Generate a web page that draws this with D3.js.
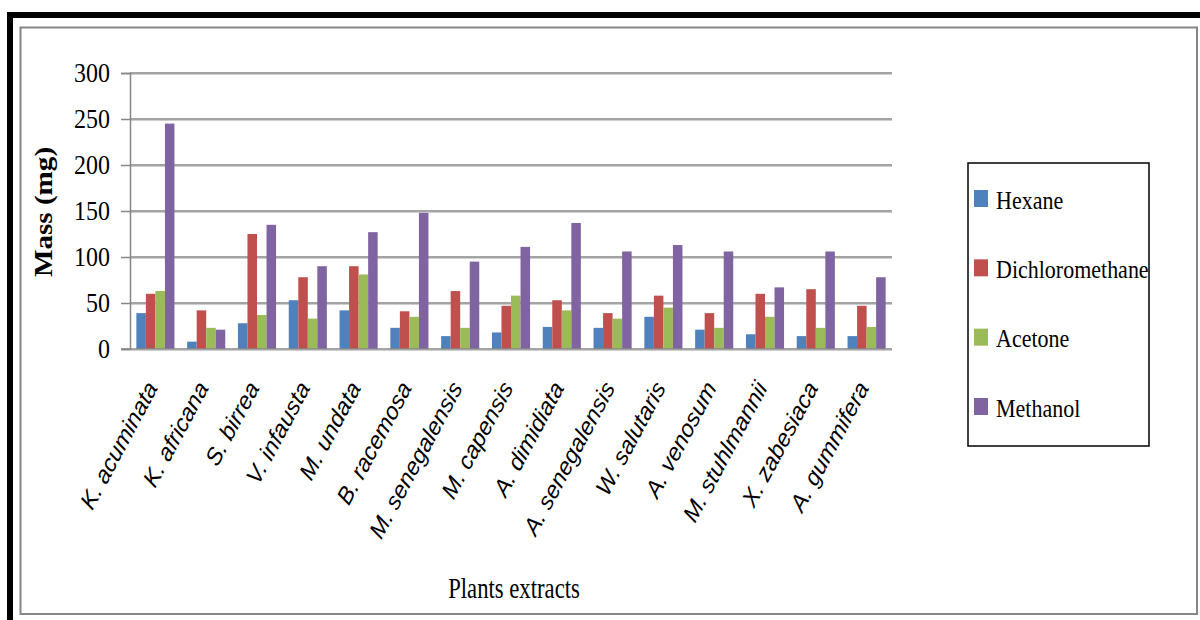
<!DOCTYPE html>
<html>
<head>
<meta charset="utf-8">
<script src="https://cdn.jsdelivr.net/npm/d3@7"></script>
<style>
  html, body { margin: 0; padding: 0; background: #fff; }
  svg { display: block; }
</style>
</head>
<body>
<svg id="chart" width="1200" height="620"></svg>
<script>
// Plant names along the x axis
const categories = [
  "K. acuminata", "K. africana", "S. birrea", "V. infausta", "M. undata",
  "B. racemosa", "M. senegalensis", "M. capensis", "A. dimidiata",
  "A. senegalensis", "W. salutaris", "A. venosum", "M. stuhlmannii",
  "X. zabesiaca", "A. gummifera"
];
// Extract mass (mg) per solvent
const hexane          = [39, 8, 28, 53, 42, 23, 14, 18, 24, 23, 35, 21, 16, 14, 14];
const dichloromethane = [60, 42, 125, 78, 90, 41, 63, 47, 53, 39, 58, 39, 60, 65, 47];
const acetone         = [63, 23, 37, 33, 81, 35, 23, 58, 42, 33, 45, 23, 35, 23, 24];
const methanol        = [245, 21, 135, 90, 127, 148, 95, 111, 137, 106, 113, 106, 67, 106, 78];
const seriesNames  = ["Hexane", "Dichloromethane", "Acetone", "Methanol"];
const seriesColors = ["#4F81BD", "#C0504D", "#9BBB59", "#8064A2"];
const yTicks = [0, 50, 100, 150, 200, 250, 300];

const seriesValues = [hexane, dichloromethane, acetone, methanol];
const serif = "'Liberation Serif', 'Times New Roman', serif";
const svg = d3.select("#chart");

// Frame: heavy black top/left edge, thin grey inner border
svg.append("rect").attr("x", 7).attr("y", 12).attr("width", 1193).attr("height", 6).attr("fill", "#000");
svg.append("rect").attr("x", 7).attr("y", 12).attr("width", 6).attr("height", 608).attr("fill", "#000");
svg.append("rect").attr("x", 20.5).attr("y", 27.5).attr("width", 1176.5).attr("height", 586.5)
  .attr("fill", "none").attr("stroke", "#868686").attr("stroke-width", 2);

const plot = { left: 130, right: 892, top: 73, bottom: 349 };

const x0 = d3.scaleBand().domain(categories).range([plot.left, plot.right])
  .paddingInner(0.25).paddingOuter(0.125);
const x1 = d3.scaleBand().domain(seriesNames).range([0, x0.bandwidth()]);
const y = d3.scaleLinear().domain([0, 300]).range([plot.bottom, plot.top]);

// Horizontal gridlines (dark line with a soft shadow line beneath)
const gridTicks = yTicks.filter(d => d > 0);
const grid = svg.append("g");
grid.selectAll("line.dark").data(gridTicks).join("line").attr("class", "dark")
  .attr("x1", plot.left).attr("x2", plot.right)
  .attr("y1", d => y(d)).attr("y2", d => y(d))
  .attr("stroke", "#868686").attr("stroke-width", 1.3);
grid.selectAll("line.light").data(gridTicks).join("line").attr("class", "light")
  .attr("x1", plot.left).attr("x2", plot.right)
  .attr("y1", d => y(d) + 1.5).attr("y2", d => y(d) + 1.5)
  .attr("stroke", "#cfcfcf").attr("stroke-width", 1);

// Grouped bars
const rows = categories.map((c, i) => ({
  cat: c,
  vals: seriesValues.map((s, k) => ({ name: seriesNames[k], v: s[i], k }))
}));
svg.append("g").selectAll("g").data(rows).join("g")
  .attr("transform", d => `translate(${x0(d.cat)},0)`)
  .selectAll("rect").data(d => d.vals).join("rect")
  .attr("x", d => x1(d.name))
  .attr("width", x1.bandwidth())
  .attr("y", d => y(d.v))
  .attr("height", d => y(0) - y(d.v))
  .attr("fill", d => seriesColors[d.k]);

// Y axis
const yAxis = d3.axisLeft(y).tickValues(yTicks).tickSize(9).tickPadding(11);
const yg = svg.append("g").attr("transform", `translate(${plot.left},0)`).call(yAxis);
yg.select(".domain").attr("stroke", "#868686").attr("stroke-width", 1.5);
yg.selectAll(".tick line").attr("stroke", "#868686").attr("stroke-width", 1.5);
yg.selectAll(".tick text")
  .attr("font-family", serif)
  .attr("font-size", 24).attr("fill", "#000")
  .attr("dy", "0.32em")
  .attr("transform", "scale(1,1.12)");

// Baseline
svg.append("line").attr("x1", plot.left - 9).attr("x2", plot.right)
  .attr("y1", y(0)).attr("y2", y(0)).attr("stroke", "#868686").attr("stroke-width", 1.5);
svg.append("line").attr("x1", plot.left).attr("x2", plot.right)
  .attr("y1", y(0) + 1.5).attr("y2", y(0) + 1.5).attr("stroke", "#cfcfcf").attr("stroke-width", 1);

// Category labels, slanted
svg.append("g").selectAll("text").data(categories).join("text")
  .attr("transform", d => `translate(${x0(d) + x0.bandwidth() / 2 + 3},388) scale(1,1.12) rotate(-59)`)
  .attr("text-anchor", "end")
  .attr("font-family", "'Liberation Sans', Arial, sans-serif")
  .attr("font-style", "italic")
  .attr("font-size", 22)
  .attr("fill", "#000")
  .text(d => d);

// Axis titles
svg.append("text")
  .attr("transform", "translate(52,212) scale(1,1.12) rotate(-90)")
  .attr("text-anchor", "middle")
  .attr("font-family", serif)
  .attr("font-weight", "bold").attr("font-size", 26).attr("fill", "#000")
  .text("Mass (mg)");
svg.append("text")
  .attr("transform", "translate(514,598) scale(1,1.3)")
  .attr("text-anchor", "middle")
  .attr("font-family", serif)
  .attr("font-size", 22.7).attr("fill", "#000")
  .text("Plants extracts");

// Legend
const legend = svg.append("g");
legend.append("rect").attr("x", 968).attr("y", 163).attr("width", 181).attr("height", 283)
  .attr("fill", "#fff").attr("stroke", "#000").attr("stroke-width", 1.5);
const ly = d3.scalePoint().domain(seriesNames).range([199, 407]);
const items = legend.selectAll("g.item").data(seriesNames).join("g").attr("class", "item")
  .attr("transform", d => `translate(974,${ly(d)})`);
items.append("rect").attr("x", 0).attr("y", -9).attr("width", 14).attr("height", 17)
  .attr("fill", (d, i) => seriesColors[i]);
items.append("text")
  .attr("transform", "translate(22,9.5) scale(1,1.12)")
  .attr("font-family", serif)
  .attr("font-size", 22).attr("fill", "#000")
  .text(d => d);
</script>
</body>
</html>
